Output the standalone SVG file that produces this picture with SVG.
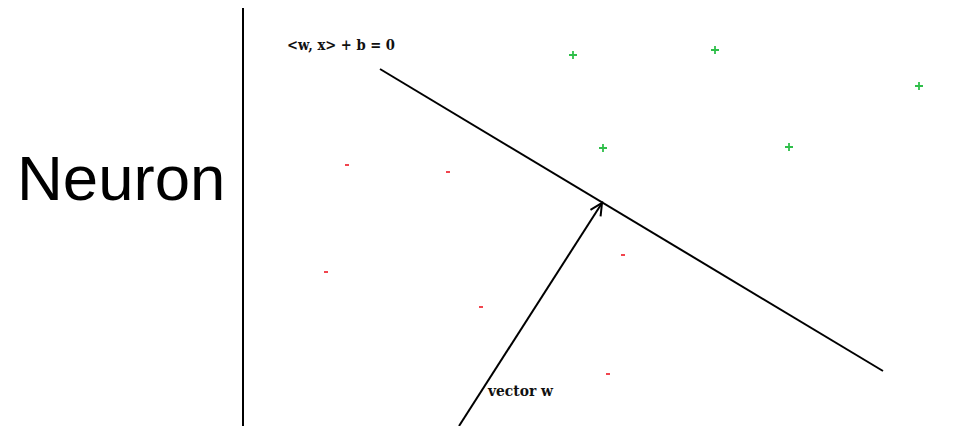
<svg xmlns="http://www.w3.org/2000/svg" width="971" height="426" viewBox="0 0 971 426">
<style>
.ln{stroke:#000;stroke-width:2;fill:none}
.lbl{font-family:"DejaVu Serif","Liberation Serif",serif;font-weight:bold;font-size:14.5px;fill:#111}
.plus{stroke:#2fbf4a;stroke-width:1.8}
.minus{stroke:#f0303a;stroke-width:1.8}
</style>
<defs>
<marker id="arr" markerWidth="16" markerHeight="16" refX="13" refY="8" orient="auto" markerUnits="userSpaceOnUse">
<path d="M1,2 L13,8 L1,14" fill="none" stroke="#000" stroke-width="2"/>
</marker>
</defs>
<rect width="971" height="426" fill="#fff"/>
<text x="17" y="200" font-family="Liberation Sans, Arial, sans-serif" font-size="63.5" fill="#000">Neuron</text>
<line x1="243" y1="8" x2="243" y2="426" class="ln"/>
<g id="connectors">
<line id="boundary" x1="380" y1="69" x2="883" y2="371" class="ln"/>
<line id="vector" x1="459" y1="426" x2="602" y2="203" class="ln" marker-end="url(#arr)"/>
</g>
<text class="lbl" x="287" y="50" textLength="108" lengthAdjust="spacingAndGlyphs">&lt;w, x&gt; + b = 0</text>
<text class="lbl" x="488" y="396" textLength="65" lengthAdjust="spacingAndGlyphs">vector w</text>
<g id="plus">
<path class="plus" d="M569,55h8M573,51v8"/>
<path class="plus" d="M711,50h8M715,46v8"/>
<path class="plus" d="M915,86h8M919,82v8"/>
<path class="plus" d="M599,148h8M603,144v8"/>
<path class="plus" d="M785,147h8M789,143v8"/>
</g>
<g id="minus">
<path class="minus" d="M345,165h4"/>
<path class="minus" d="M446,172h4"/>
<path class="minus" d="M324,272h4"/>
<path class="minus" d="M479,307h4"/>
<path class="minus" d="M621,255h4"/>
<path class="minus" d="M606,374h4"/>
</g>
</svg>
